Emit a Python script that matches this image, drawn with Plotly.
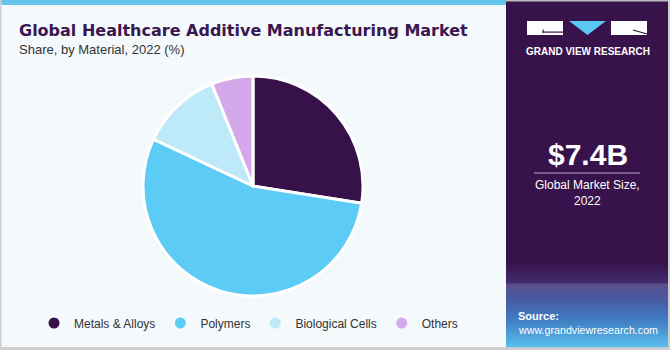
import plotly.graph_objects as go

# ---- data ----
categories = ["Metals & Alloys", "Polymers", "Biological Cells", "Others"]
shares = [27.5, 54.5, 11.9, 6.1]
colors = ["#37114A", "#5CCBF5", "#BDE9F9", "#D5A8EC"]

title_text = "Global Healthcare Additive Manufacturing Market"
subtitle_text = "Share, by Material, 2022 (%)"
market_value = "$7.4B"
market_label = "Global Market Size,<br>2022"
source_label = "Source:"
source_url = "www.grandviewresearch.com"
brand = "GRAND VIEW RESEARCH"

W, H = 670, 350
BG = "#F4F9FC"
PURPLE = "#38124A"


def px(x):
    return x / W


def py(y):
    return 1 - y / H


fig = go.Figure()

# pie
cx, cy, r = 253, 186, 110
fig.add_trace(go.Pie(
    labels=categories, values=shares, sort=False, direction="clockwise",
    rotation=0, textinfo="none", hoverinfo="label+percent",
    marker=dict(colors=colors, line=dict(color="white", width=3)),
    domain=dict(x=[(cx - r) / W, (cx + r) / W], y=[(H - cy - r) / H, (H - cy + r) / H]),
    showlegend=False,
))

# legend proxies (circle markers)
for name, c in zip(categories, colors):
    fig.add_trace(go.Scatter(x=[None], y=[None], mode="markers", name=name,
                             marker=dict(symbol="circle", size=11, color=c)))


def prect(x0, x1, y0, y1, color, layer="below"):
    return dict(type="rect", xref="paper", yref="paper", x0=px(x0), x1=px(x1), y0=py(y1), y1=py(y0),
                fillcolor=color, line=dict(width=0), layer=layer)


shapes = []
shapes.append(prect(0, 506, 0, 5, "#62C6EE"))
shapes.append(prect(0, 1.5, 0, 350, "#CFCFCF"))
shapes.append(prect(0, 670, 347, 350, "#CFCFCF"))
shapes.append(prect(506, 668, 0, 283, PURPLE))
shapes.append(prect(506, 670, 0, 1.5, "#BBBBBB"))
shapes.append(prect(668, 670, 0, 350, "#CFCFCF"))


def lerp(a, b, t):
    return tuple(int(round(a[i] + (b[i] - a[i]) * t)) for i in range(3))


stops = [(262, (56, 18, 74)), (283, (66, 44, 110)), (284, (88, 78, 140)), (300, (74, 90, 165)),
         (320, (63, 125, 194)), (347, (92, 190, 236))]
for i in range(len(stops) - 1):
    y0, c0 = stops[i]
    y1, c1 = stops[i + 1]
    n = max(1, int(y1 - y0))
    for k in range(n):
        t = (k + 0.5) / n
        c = lerp(c0, c1, t)
        shapes.append(prect(506, 668, y0 + (y1 - y0) * k / n, y0 + (y1 - y0) * (k + 1) / n + 0.3,
                            "rgb(%d,%d,%d)" % c))

# logo (paper coords)
shapes.append(prect(527, 563, 21, 35, "white", layer="above"))
shapes.append(prect(542.5, 563, 31.5, 32.7, PURPLE, layer="above"))
shapes.append(prect(542.5, 543.7, 29.5, 32.7, PURPLE, layer="above"))
tri = "M%.5f,%.5f L%.5f,%.5f L%.5f,%.5f Z" % (px(569), py(21), px(606), py(21), px(587.5), py(35))
shapes.append(dict(type="path", xref="paper", yref="paper", path=tri, fillcolor="#5CC8F2",
                   line=dict(width=0), layer="above"))
shapes.append(prect(611, 647, 21, 35, "white", layer="above"))
shapes.append(dict(type="line", xref="paper", yref="paper", x0=px(633), y0=py(30), x1=px(647), y1=py(34),
                   line=dict(color=PURPLE, width=1.2), layer="above"))
# divider line
shapes.append(dict(type="line", xref="paper", yref="paper", x0=px(534), x1=px(640), y0=py(173), y1=py(173),
                   line=dict(color="#B9A9C6", width=1), layer="above"))

annotations = [
    dict(x=17, y=30, text="<b>" + title_text + "</b>", xanchor="left", yanchor="middle", showarrow=False,
         font=dict(family="DejaVu Sans", size=16, color="#3A1750")),
    dict(x=17, y=49, text=subtitle_text, xanchor="left", yanchor="middle", showarrow=False,
         font=dict(family="Liberation Sans, Arial", size=13, color="#333333")),
    dict(x=587.5, y=51, text="<b>" + brand + "</b>", xanchor="center", yanchor="middle", showarrow=False,
         font=dict(family="Liberation Sans, Arial", size=10, color="white")),
    dict(x=587.5, y=154, text="<b>" + market_value + "</b>", xanchor="center", yanchor="middle", showarrow=False,
         font=dict(family="Liberation Sans, Arial", size=30, color="white")),
    dict(x=587.5, y=193, text=market_label, xanchor="center", yanchor="middle", showarrow=False,
         font=dict(family="Liberation Sans, Arial", size=12, color="white")),
    dict(x=516, y=316, text="<b>" + source_label + "</b>", xanchor="left", yanchor="middle", showarrow=False,
         font=dict(family="Liberation Sans, Arial", size=11, color="white")),
    dict(x=516, y=330, text=source_url, xanchor="left", yanchor="middle", showarrow=False,
         font=dict(family="Liberation Sans, Arial", size=10.7, color="white")),
]

fig.update_layout(
    width=W, height=H, margin=dict(l=0, r=0, t=0, b=0),
    paper_bgcolor=BG, plot_bgcolor="rgba(0,0,0,0)",
    xaxis=dict(range=[0, W], visible=False, fixedrange=True, domain=[0, 1]),
    yaxis=dict(range=[H, 0], visible=False, fixedrange=True, domain=[0, 1]),
    shapes=shapes, annotations=annotations,
    showlegend=True,
    legend=dict(orientation="h", x=34 / W, y=(H - 323) / H, xanchor="left", yanchor="middle",
                bgcolor="rgba(0,0,0,0)", font=dict(family="Liberation Sans, Arial", size=12, color="#333333"),
                itemclick=False, itemdoubleclick=False),
)

fig.write_html("out.html")
